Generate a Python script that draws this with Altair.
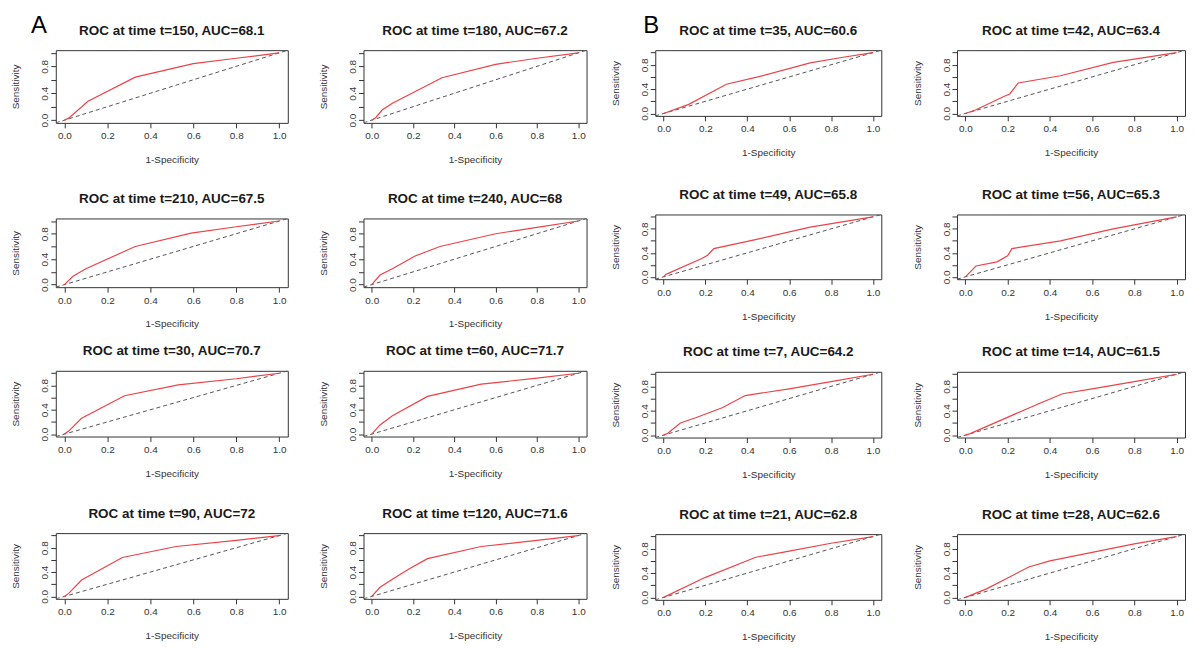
import altair as alt
import pandas as pd

# ---------------- data ----------------
# Panel A (rows: t=150,180 / 210,240 / 30,60 / 90,120)
TIMES_A = [150, 180, 210, 240, 30, 60, 90, 120]
AUC_A = [68.1, 67.2, 67.5, 68, 70.7, 71.7, 72, 71.6]
# Panel B (rows: t=35,42 / 49,56 / 7,14 / 21,28)
TIMES_B = [35, 42, 49, 56, 7, 14, 21, 28]
AUC_B = [60.6, 63.4, 65.8, 65.3, 64.2, 61.5, 62.8, 62.6]

FPR_A150 = [0.0, 0.02, 0.11, 0.33, 0.60, 0.80, 1.0]
TPR_A150 = [0.0, 0.03, 0.28, 0.64, 0.84, 0.92, 1.0]
FPR_A180 = [0.0, 0.02, 0.05, 0.10, 0.34, 0.60, 0.80, 1.0]
TPR_A180 = [0.0, 0.04, 0.15, 0.25, 0.63, 0.83, 0.92, 1.0]
FPR_A210 = [0.0, 0.04, 0.10, 0.33, 0.59, 0.80, 1.0]
TPR_A210 = [0.0, 0.13, 0.25, 0.60, 0.81, 0.91, 1.0]
FPR_A240 = [0.0, 0.04, 0.10, 0.21, 0.33, 0.60, 0.80, 1.0]
TPR_A240 = [0.0, 0.15, 0.25, 0.45, 0.60, 0.80, 0.90, 1.0]
FPR_A30 = [0.0, 0.02, 0.08, 0.28, 0.53, 0.80, 1.0]
TPR_A30 = [0.0, 0.05, 0.26, 0.63, 0.81, 0.91, 1.0]
FPR_A60 = [0.0, 0.04, 0.10, 0.27, 0.53, 0.80, 1.0]
TPR_A60 = [0.0, 0.15, 0.30, 0.62, 0.82, 0.92, 1.0]
FPR_A90 = [0.0, 0.02, 0.08, 0.27, 0.52, 0.80, 1.0]
TPR_A90 = [0.0, 0.05, 0.27, 0.64, 0.82, 0.92, 1.0]
FPR_A120 = [0.0, 0.04, 0.10, 0.18, 0.27, 0.53, 0.80, 1.0]
TPR_A120 = [0.0, 0.15, 0.28, 0.45, 0.62, 0.82, 0.92, 1.0]

FPR_B35 = [0.0, 0.12, 0.30, 0.45, 0.70, 0.85, 1.0]
TPR_B35 = [0.0, 0.15, 0.48, 0.60, 0.83, 0.92, 1.0]
FPR_B42 = [0.0, 0.05, 0.19, 0.21, 0.25, 0.45, 0.70, 1.0]
TPR_B42 = [0.0, 0.06, 0.29, 0.32, 0.50, 0.62, 0.84, 1.0]
FPR_B49 = [0.0, 0.01, 0.03, 0.18, 0.21, 0.24, 0.45, 0.70, 1.0]
TPR_B49 = [0.0, 0.04, 0.07, 0.30, 0.36, 0.47, 0.63, 0.83, 1.0]
FPR_B56 = [0.0, 0.05, 0.15, 0.20, 0.22, 0.45, 0.70, 1.0]
TPR_B56 = [0.0, 0.18, 0.25, 0.35, 0.47, 0.60, 0.80, 1.0]
FPR_B7 = [0.0, 0.02, 0.08, 0.15, 0.28, 0.39, 0.60, 0.80, 1.0]
TPR_B7 = [0.0, 0.03, 0.20, 0.28, 0.45, 0.65, 0.76, 0.88, 1.0]
FPR_B14 = [0.0, 0.02, 0.35, 0.46, 0.60, 0.80, 1.0]
TPR_B14 = [0.0, 0.02, 0.52, 0.68, 0.76, 0.88, 1.0]
FPR_B21 = [0.0, 0.20, 0.44, 0.60, 0.80, 1.0]
TPR_B21 = [0.0, 0.33, 0.66, 0.76, 0.89, 1.0]
FPR_B28 = [0.0, 0.10, 0.20, 0.30, 0.40, 0.60, 0.80, 1.0]
TPR_B28 = [0.0, 0.14, 0.32, 0.50, 0.60, 0.74, 0.88, 1.0]

ROC_A = [(FPR_A150, TPR_A150), (FPR_A180, TPR_A180), (FPR_A210, TPR_A210), (FPR_A240, TPR_A240),
         (FPR_A30, TPR_A30), (FPR_A60, TPR_A60), (FPR_A90, TPR_A90), (FPR_A120, TPR_A120)]
ROC_B = [(FPR_B35, TPR_B35), (FPR_B42, TPR_B42), (FPR_B49, TPR_B49), (FPR_B56, TPR_B56),
         (FPR_B7, TPR_B7), (FPR_B14, TPR_B14), (FPR_B21, TPR_B21), (FPR_B28, TPR_B28)]

DIAG = [-0.04, 1.04]          # reference line y = x across the full frame
TICKS = [0.0, 0.2, 0.4, 0.6, 0.8, 1.0]

# ---------------- style / layout ----------------
FONT = "Liberation Sans"
RED = "#ec4248"
WIDTH_A = [233, 224]
WIDTH_B = [227, 229]
HEIGHT_A = [73, 69, 66, 66]
HEIGHT_B = [66, 65, 66, 66]


def panel(t, auc, fpr, tpr, w, h):
    roc = pd.DataFrame({"fpr": fpr, "tpr": tpr})
    diag = pd.DataFrame({"fpr": DIAG, "tpr": DIAG})
    sc = alt.Scale(domain=[-0.04, 1.04], nice=False, zero=False)
    x = alt.X("fpr:Q", scale=sc,
              axis=alt.Axis(values=TICKS, format=".1f", title="1-Specificity"))
    y = alt.Y("tpr:Q", scale=sc,
              axis=alt.Axis(values=TICKS, title="Sensitivity", labelAngle=270,
                            labelAlign="center", labelBaseline="bottom",
                            labelExpr="indexof(['0.0','0.4','0.8'], format(datum.value, '.1f')) >= 0 ? format(datum.value, '.1f') : ''"))
    d = alt.Chart(diag).mark_line(color="#555555", strokeDash=[4, 3], strokeWidth=1, clip=True).encode(x=x, y=y)
    r = alt.Chart(roc).mark_line(color=RED, strokeWidth=1.2, clip=True).encode(x=x, y=y)
    return alt.layer(d, r).properties(
        width=w, height=h,
        title=alt.TitleParams(f"ROC at time t={t}, AUC={auc:g}", frame="group", anchor="middle"),
    )


def group(times, aucs, rocs, widths, heights, gaps, letter, dx):
    rows = []
    for i in range(4):
        ps = [panel(times[2 * i + j], aucs[2 * i + j], rocs[2 * i + j][0], rocs[2 * i + j][1],
                    widths[j], heights[i]) for j in range(2)]
        rows.append(alt.hconcat(*ps, spacing=29))
    top = alt.vconcat(rows[0], rows[1], spacing=gaps[0])
    bot = alt.vconcat(rows[2], rows[3], spacing=gaps[2])
    return alt.vconcat(top, bot, spacing=gaps[1]).properties(
        title=alt.TitleParams(letter, anchor="start", frame="group", fontSize=24, fontWeight="normal",
                              font=FONT, color="#000000", dx=dx, dy=15, offset=0)
    )


gA = group(TIMES_A, AUC_A, ROC_A, WIDTH_A, HEIGHT_A, [26, 14, 27], "A", -25)
gB = group(TIMES_B, AUC_B, ROC_B, WIDTH_B, HEIGHT_B, [29, 23, 27], "B", -12)

chart = alt.hconcat(gA, gB, spacing=22).properties(
    padding={"left": 2, "top": 5, "right": 0, "bottom": 0}
).configure_view(
    stroke="#333333", strokeWidth=1
).configure_axis(
    grid=False, domain=False,
    labelFont=FONT, labelFontSize=10, labelColor="#333333",
    tickColor="#333333", tickSize=5,
    titleFont=FONT, titleFontSize=10, titleFontWeight="normal", titleColor="#333333",
).configure_axisX(
    labelPadding=3, titlePadding=14,
).configure_axisY(
    labelPadding=1, titlePadding=19,
).configure_title(
    font=FONT, fontSize=13.5, fontWeight="bold", color="#1a1a1a", offset=13,
)

chart.save("out.html", embed_options={"renderer": "svg", "actions": False})
